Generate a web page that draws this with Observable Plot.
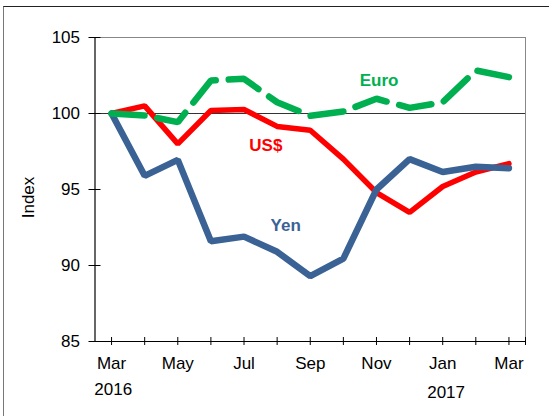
<!DOCTYPE html>
<html>
<head>
<meta charset="utf-8">
<script src="https://cdn.jsdelivr.net/npm/d3@7"></script>
<script src="https://cdn.jsdelivr.net/npm/@observablehq/plot@0.6"></script>
<style>
  html, body { margin: 0; padding: 0; background: white; overflow: hidden; }
  #wrap { position: relative; width: 549px; height: 416px; }
  #border { position: absolute; left: 3px; top: 6px; width: 700px; height: 600px;
            border-top: 1.5px solid #222; border-left: 1.5px solid #777; pointer-events: none; }
  #chart { position: absolute; left: 0; top: 0; }
</style>
</head>
<body>
<div id="wrap"><div id="chart"></div><div id="border"></div></div>
<script>
const months = ["Mar","Apr","May","Jun","Jul","Aug","Sep","Oct","Nov","Dec","Jan","Feb","Mar"];
const years = ["2016", "2017"];
const usd  = [100, 100.5, 98.0, 100.2, 100.26, 99.15, 98.9, 97.0, 94.8, 93.5, 95.2, 96.15, 96.7];
const euro = [100, 99.87, 99.43, 102.17, 102.28, 100.74, 99.85, 100.13, 100.97, 100.37, 100.74, 102.83, 102.39];
const yen  = [100, 95.9, 96.95, 91.6, 91.9, 90.9, 89.3, 90.45, 95.0, 97.0, 96.15, 96.5, 96.4];
const yTicks = [85, 90, 95, 100, 105];

const idx = months.map((_, i) => i);
const janIdx = months.indexOf("Jan");
const font = "Arial, 'Liberation Sans', sans-serif";

const plot = Plot.plot({
  width: 549,
  height: 416,
  marginLeft: 94.5,
  marginRight: 24,
  marginTop: 37,
  marginBottom: 75,
  style: {fontFamily: font, fontSize: "17px", background: "white", color: "black", overflow: "visible"},
  x: {type: "linear", domain: [-0.5, months.length - 0.5]},
  y: {domain: [85, 105]},
  marks: [
    Plot.ruleY([105], {stroke: "#888", strokeWidth: 1}),
    Plot.ruleX([months.length - 0.5], {stroke: "#888", strokeWidth: 1}),
    Plot.ruleY([100], {stroke: "#333", strokeWidth: 1.2}),
    Plot.ruleX([-0.5], {stroke: "black", strokeWidth: 1.2}),
    Plot.ruleY([85], {stroke: "black", strokeWidth: 1.2}),
    Plot.axisY({ticks: yTicks, tickSize: 12, dx: 6, tickFormat: () => "", label: null}),
    Plot.axisY({ticks: yTicks, tickSize: 0, tickPadding: 15, label: null, fontSize: 17}),
    Plot.axisX({ticks: [...idx, months.length - 0.5], tickSize: 8, dy: -4, tickFormat: () => "", label: null}),
    Plot.axisX({ticks: idx.filter(i => i % 2 === 0), tickSize: 0, tickPadding: 15, tickFormat: i => months[i], label: null, fontSize: 17}),
    Plot.text([years[0]], {x: [0], frameAnchor: "bottom", lineAnchor: "middle", dy: 48.3, dx: 1.7, fontSize: 17}),
    Plot.text([years[1]], {x: [janIdx], frameAnchor: "bottom", lineAnchor: "middle", dy: 50.7, dx: 3.4, fontSize: 17}),
    Plot.text(["Index"], {frameAnchor: "left", textAnchor: "middle", lineAnchor: "middle", rotate: -90, dx: -66, dy: 8, fontSize: 17}),
    Plot.line(idx, {x: i => i, y: i => usd[i], stroke: "#FF0000", strokeWidth: 5.5, strokeLinejoin: "miter"}),
    Plot.line(idx, {x: i => i, y: i => yen[i], stroke: "#3A6295", strokeWidth: 6.5, strokeLinejoin: "miter"}),
    Plot.line(idx, {x: i => i, y: i => euro[i], stroke: "#00B050", strokeWidth: 6.5, strokeLinejoin: "miter", strokeDasharray: "33,13"}),
    Plot.text(["Euro"], {x: [8.08], y: [102.17], fill: "#00B050", fontWeight: "bold", fontSize: 17}),
    Plot.text(["US$"], {x: [4.66], y: [97.9], fill: "#FF0000", fontWeight: "bold", fontSize: 17}),
    Plot.text(["Yen"], {x: [5.26], y: [92.63], fill: "#3A6295", fontWeight: "bold", fontSize: 17})
  ]
});
document.getElementById("chart").appendChild(plot);
</script>
</body>
</html>
